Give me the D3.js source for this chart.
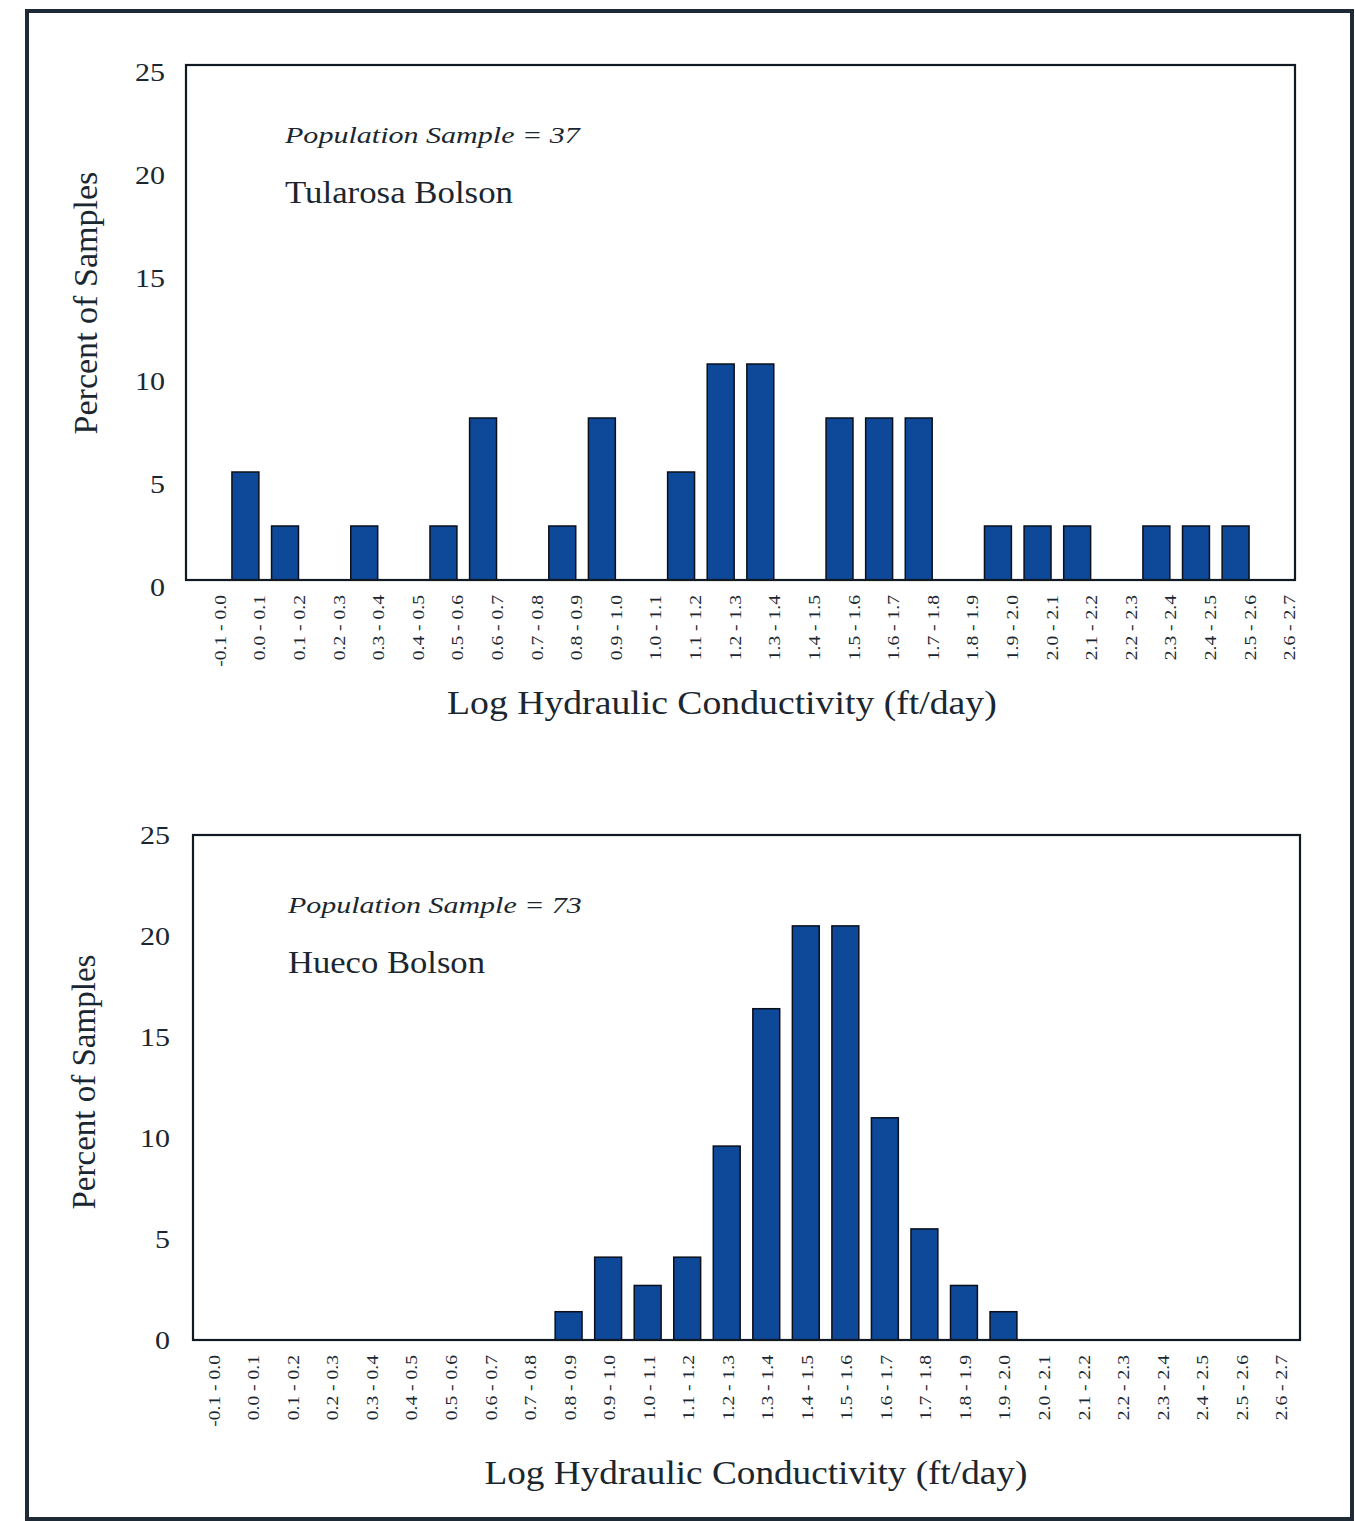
<!DOCTYPE html>
<html><head><meta charset="utf-8">
<script src="https://cdn.jsdelivr.net/npm/d3@7"></script>
<style>body{margin:0;background:#fff}svg{display:block}text{font-family:"Liberation Serif","Times New Roman",serif;fill:#1b2730}</style>
</head><body>
<script>
const categories = ["-0.1 - 0.0","0.0 - 0.1","0.1 - 0.2","0.2 - 0.3","0.3 - 0.4","0.4 - 0.5","0.5 - 0.6","0.6 - 0.7","0.7 - 0.8","0.8 - 0.9","0.9 - 1.0","1.0 - 1.1","1.1 - 1.2","1.2 - 1.3","1.3 - 1.4","1.4 - 1.5","1.5 - 1.6","1.6 - 1.7","1.7 - 1.8","1.8 - 1.9","1.9 - 2.0","2.0 - 2.1","2.1 - 2.2","2.2 - 2.3","2.3 - 2.4","2.4 - 2.5","2.5 - 2.6","2.6 - 2.7"];
const tularosaValues = [0,5.4,2.7,0,2.7,0,2.7,8.1,0,2.7,8.1,0,5.4,10.8,10.8,0,8.1,8.1,8.1,0,2.7,2.7,2.7,0,2.7,2.7,2.7,0];
const huecoValues = [0,0,0,0,0,0,0,0,0,1.4,4.1,2.7,4.1,9.6,16.4,20.5,20.5,11.0,5.5,2.7,1.4,0,0,0,0,0,0,0];
const yTicks = [0,5,10,15,20,25];
const xTitle = "Log Hydraulic Conductivity (ft/day)";
const yTitle = "Percent of Samples";

const W = 1355, H = 1521;
const svg = d3.select("body").append("svg").attr("width", W).attr("height", H);
svg.append("rect").attr("x",27).attr("y",11).attr("width",1325).attr("height",1508)
  .attr("fill","none").attr("stroke","#1e2b36").attr("stroke-width",4);

function stretched(g, txt, x, y, rot, len, size, anchor, italic) {
  const t = g.append("text").style("font-size", size + "px").text(txt);
  if (italic) t.style("font-style","italic");
  const w = t.node().getComputedTextLength();
  const sx = len / w;
  const off = anchor === "middle" ? -w/2 : 0;
  t.attr("x", off).attr("transform", `translate(${x},${y}) rotate(${rot}) scale(${sx},1)`);
  return t;
}

const panels = [
  {values: tularosaValues, sample: "Population Sample = 37", name: "Tularosa Bolson",
   left:186, right:1295, top:65, bottom:580, barTop:80, ytickX:165, ytickDy:7, labDx:20,
   yTitleX:97, yTitleY:303, yTitleLen:263, xTitleY:714, xTitleX:722, xTitleLen:550,
   annX:285, annY1:143, annY2:203, sampleLen:295, nameLen:228},
  {values: huecoValues, sample: "Population Sample = 73", name: "Hueco Bolson",
   left:193, right:1300, top:835, bottom:1340, barTop:835, ytickX:170, ytickDy:0, labDx:7,
   yTitleX:95, yTitleY:1082, yTitleLen:255, xTitleY:1484, xTitleX:756, xTitleLen:543,
   annX:288, annY1:913, annY2:973, sampleLen:294, nameLen:197}
];

panels.forEach(p => {
  const g = svg.append("g");
  const x = d3.scaleBand().domain(categories).range([p.left, p.right]).paddingInner(0.32).paddingOuter(0.16);
  const y = d3.scaleLinear().domain([0,25]).range([p.bottom, p.top]);
  const yBar = d3.scaleLinear().domain([0,25]).range([p.bottom, p.barTop]);

  g.selectAll("rect.bar").data(categories.map((c,i)=>({c, v:p.values[i]})).filter(d=>d.v>0))
    .enter().append("rect").attr("class","bar")
    .attr("x", d=>x(d.c)).attr("width", x.bandwidth())
    .attr("y", d=>yBar(d.v)).attr("height", d=>yBar(0)-yBar(d.v))
    .attr("fill","#0e4898").attr("stroke","#0a0f1a").attr("stroke-width",1.5);

  g.append("rect").attr("x",p.left).attr("y",p.top).attr("width",p.right-p.left).attr("height",p.bottom-p.top)
    .attr("fill","none").attr("stroke","#111a22").attr("stroke-width",2.2);

  g.selectAll("text.yt").data(yTicks).enter().append("text").attr("class","yt")
    .attr("transform", d=>`translate(${p.ytickX},${y(d)+p.ytickDy}) scale(1.2,1)`)
    .attr("dy","0.35em").attr("text-anchor","end").style("font-size","25px").text(d=>d);

  g.selectAll("text.xt").data(categories).enter().append("text").attr("class","xt")
    .attr("transform", d=>`translate(${x(d)+x.bandwidth()/2+p.labDx},${p.bottom+15}) rotate(-90) scale(1.12,1)`)
    .attr("text-anchor","end").style("font-size","17.5px").text(d=>d);

  stretched(g, yTitle, p.yTitleX, p.yTitleY, -90, p.yTitleLen, 33, "middle", false);
  stretched(g, xTitle, p.xTitleX, p.xTitleY, 0, p.xTitleLen, 33, "middle", false);
  stretched(g, p.sample, p.annX, p.annY1, 0, p.sampleLen, 24, "start", true);
  stretched(g, p.name, p.annX, p.annY2, 0, p.nameLen, 32, "start", false);
});
</script>
</body></html>
